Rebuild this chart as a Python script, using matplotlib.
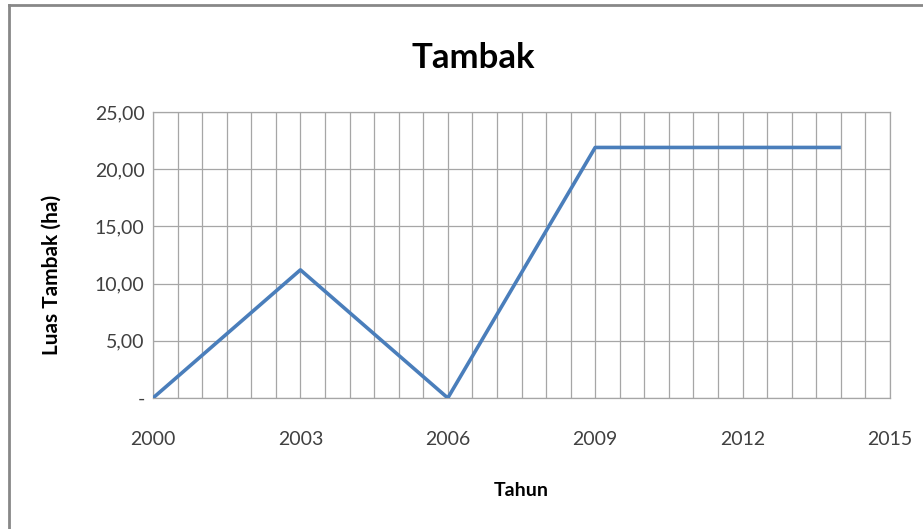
import matplotlib.pyplot as plt
from matplotlib.lines import Line2D
from matplotlib.ticker import MultipleLocator, FuncFormatter

# data
tahun = [2000, 2003, 2006, 2009, 2014]
luas = [0.0, 11.2, 0.0, 21.9, 21.9]
x_ticks = [2000, 2003, 2006, 2009, 2012, 2015]

plt.rcParams['font.family'] = ['Lato', 'DejaVu Sans']

fig = plt.figure(figsize=(9.23, 5.29), dpi=100, facecolor="white")
ax = fig.add_axes([153 / 923, 1 - 398 / 529, 737 / 923, 286 / 529])

grid_c = "#a6a6a6"
ax.plot(tahun, luas, color="#4a7ebb", linewidth=2.6, solid_capstyle="butt", zorder=3)

ax.set_xlim(2000, 2015)
ax.set_ylim(0, 25)
ax.set_xticks(x_ticks)
ax.xaxis.set_minor_locator(MultipleLocator(0.5))
ax.yaxis.set_major_locator(MultipleLocator(5))

ax.grid(True, which="both", axis="x", color=grid_c, linewidth=0.9)
ax.grid(True, which="major", axis="y", color=grid_c, linewidth=0.9)
for s in ax.spines.values():
    s.set_color(grid_c)
    s.set_linewidth(0.9)

ax.yaxis.set_major_formatter(FuncFormatter(lambda v, p: "-" if v == 0 else f"{v:.2f}".replace(".", ",")))
ax.tick_params(which="both", length=0, colors="#404040", labelsize=14)
ax.tick_params(axis="x", pad=24)
ax.tick_params(axis="y", pad=6)

fig.text(473 / 923, 1 - 58 / 529, "Tambak", fontsize=25, fontweight="bold", ha="center", va="center")
fig.text(52 / 923, 1 - 275 / 529, "Luas Tambak (ha)", fontsize=15, fontweight="bold",
         rotation=90, ha="center", va="center")
fig.text(521 / 923, 1 - 490 / 529, "Tahun", fontsize=14, fontweight="bold", ha="center", va="center")

# chart border (left and top edges visible)
fig.add_artist(Line2D([9 / 923, 9 / 923], [0, 1 - 5 / 529], transform=fig.transFigure, color="#888888", linewidth=2))
fig.add_artist(Line2D([9 / 923, 1], [1 - 5 / 529, 1 - 5 / 529], transform=fig.transFigure, color="#888888", linewidth=2))

plt.savefig("out.png", dpi=100, facecolor="white")
plt.close()
